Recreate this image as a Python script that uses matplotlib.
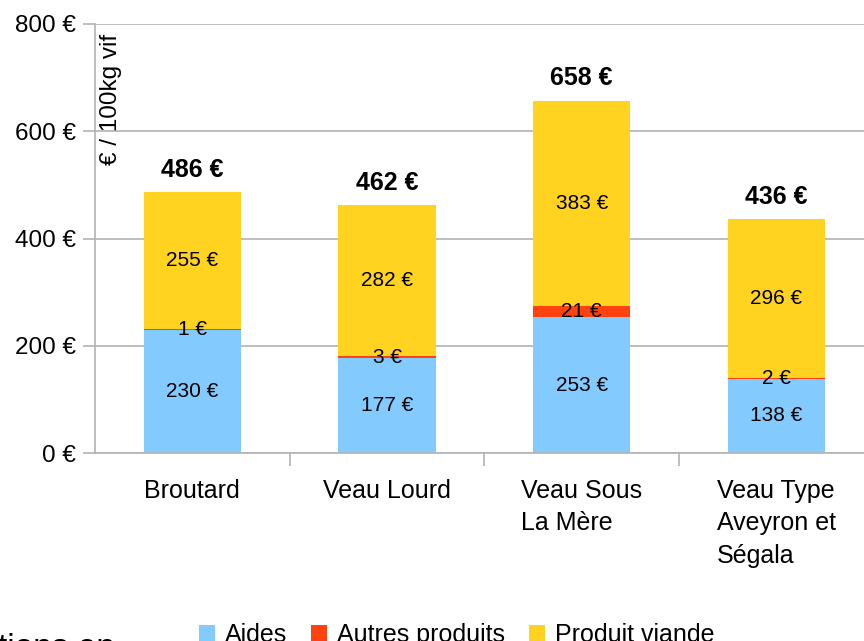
import matplotlib.pyplot as plt
import numpy as np

plt.rcParams['font.family'] = ['Liberation Sans', 'DejaVu Sans']

# data
categories = ['Broutard', 'Veau Lourd', 'Veau Sous\nLa Mère', 'Veau Type\nAveyron et\nSégala']
aides = [230, 177, 253, 138]
autres = [1, 3, 21, 2]
viande = [255, 282, 383, 296]
totals = [486, 462, 658, 436]
yticks = [0, 200, 400, 600, 800]

c_aides = '#83caff'
c_autres = '#ff420e'
c_viande = '#ffd320'
grey = '#b3b3b3'

fig = plt.figure(figsize=(8.64, 6.41), dpi=100)
ax = fig.add_axes([95/864, 1-453/641, 1-95/864, (453-24)/641])

x = np.arange(len(categories))
w = 0.5
aides = np.array(aides)
autres = np.array(autres)
viande = np.array(viande)

b1 = ax.bar(x, aides, w, color=c_aides, zorder=2, label='Aides')
b2 = ax.bar(x, autres, w, bottom=aides, color=c_autres, zorder=2, label='Autres produits')
b3 = ax.bar(x, viande, w, bottom=aides + autres, color=c_viande, zorder=2, label='Produit viande')

for i in range(len(x)):
    ax.text(x[i], aides[i] / 2, f'{aides[i]} €', ha='center', va='center', fontsize=15)
    ax.text(x[i], aides[i] + autres[i] / 2, f'{autres[i]} €', ha='center', va='center', fontsize=15)
    ax.text(x[i], aides[i] + autres[i] + viande[i] / 2, f'{viande[i]} €', ha='center', va='center', fontsize=15)
    ax.text(x[i], totals[i] + 42, f'{totals[i]} €', ha='center', va='center', fontsize=18, fontweight='bold')

ax.set_ylim(0, 800)
ax.set_xlim(-0.5, 3.45)
ax.set_yticks(yticks)
ax.set_yticklabels([f'{v} €' for v in yticks], fontsize=17.5)
ax.yaxis.grid(True, color=grey, lw=1.2, zorder=0)
ax.tick_params(axis='y', length=9, color=grey, width=1.2, pad=5)

ax.set_xticks(x)
ax.set_xticklabels(categories, fontsize=18, multialignment='left', linespacing=1.46)
ax.set_xticks([0.5, 1.5, 2.5], minor=True)
ax.tick_params(axis='x', which='major', length=0, pad=18.5)
ax.tick_params(axis='x', which='minor', length=9, color=grey, width=1.2)

for s in ['top', 'right']:
    ax.spines[s].set_visible(False)
for s in ['left', 'bottom']:
    ax.spines[s].set_color(grey)
    ax.spines[s].set_linewidth(1.2)

ax.text(0.006, 0.977, '€ / 100kg vif', transform=ax.transAxes, rotation=90,
        ha='left', va='top', fontsize=17.5)

fig.legend(handles=[b1, b2, b3], loc='upper left', bbox_to_anchor=(199/864, 1-623/641),
           ncol=3, frameon=False, fontsize=18, handlelength=0.64, handleheight=0.6,
           handletextpad=0.38, columnspacing=0.98, borderaxespad=0, borderpad=0)

fig.text(-0.002, 1-657/641, 'tions en', fontsize=24, ha='left', va='baseline')

fig.savefig('out.png', dpi=100)
